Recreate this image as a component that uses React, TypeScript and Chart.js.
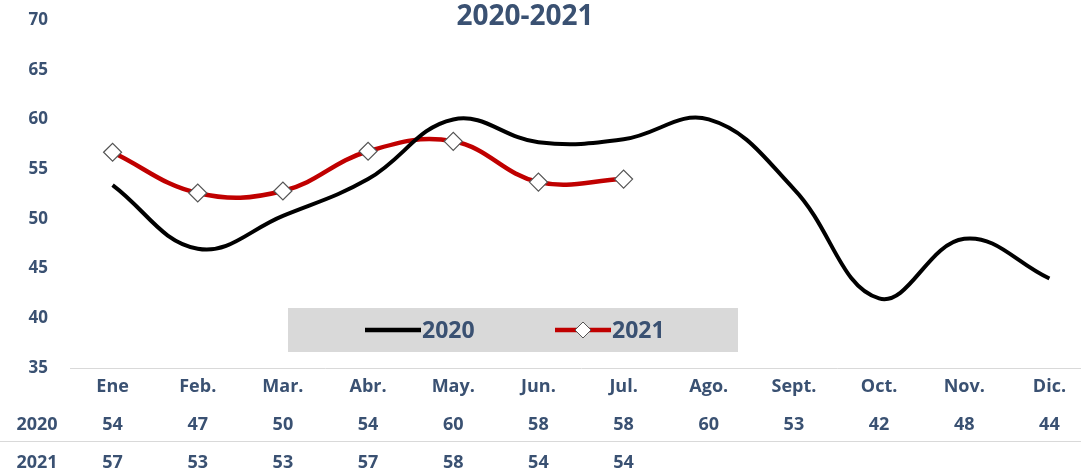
import React, { useEffect, useRef } from 'react';
import { Chart, registerables } from 'chart.js';

Chart.register(...registerables);

const titleText = '2020-2021';
const months = ['Ene', 'Feb.', 'Mar.', 'Abr.', 'May.', 'Jun.', 'Jul.', 'Ago.', 'Sept.', 'Oct.', 'Nov.', 'Dic.'];
const series2020 = [53.4, 47, 50.3, 54, 60, 57.7, 58, 60, 53, 42, 48, 44];
const series2021 = [56.7, 52.6, 52.8, 56.8, 57.8, 53.7, 54];
const table2020 = ['54', '47', '50', '54', '60', '58', '58', '60', '53', '42', '48', '44'];
const table2021 = ['57', '53', '53', '57', '58', '54', '54'];
const seriesNames = ['2020', '2021'];
const yMin = 35;
const yMax = 70;
const yStep = 5;

const TEXT = '#3a5172';
const FONT = '"Open Sans", "Noto Sans", sans-serif';

const overlayPlugin = {
  id: 'overlay',
  beforeDatasetsDraw(chart: any) {
    const { ctx, chartArea } = chart;
    const ds = chart.data.datasets;
    const bx = chartArea.left + 218;
    const by = chartArea.bottom - 60;
    const bw = 450;
    const bh = 44;
    ctx.save();
    ctx.fillStyle = '#d9d9d9';
    ctx.fillRect(bx, by, bw, bh);
    const cy = by + bh / 2;
    const items = [
      { x: bx + 77, d: ds[0] },
      { x: bx + 267, d: ds[1] },
    ];
    items.forEach((it) => {
      ctx.strokeStyle = it.d.borderColor;
      ctx.lineWidth = 4.5;
      ctx.beginPath();
      ctx.moveTo(it.x, cy);
      ctx.lineTo(it.x + 56, cy);
      ctx.stroke();
      if (it.d.pointRadius > 0) {
        const r = 8;
        const mx = it.x + 28;
        ctx.beginPath();
        ctx.moveTo(mx, cy - r);
        ctx.lineTo(mx + r, cy);
        ctx.lineTo(mx, cy + r);
        ctx.lineTo(mx - r, cy);
        ctx.closePath();
        ctx.fillStyle = it.d.pointBackgroundColor;
        ctx.fill();
        ctx.strokeStyle = it.d.pointBorderColor;
        ctx.lineWidth = 1;
        ctx.stroke();
      }
      ctx.fillStyle = TEXT;
      ctx.font = `bold 23px ${FONT}`;
      ctx.textAlign = 'left';
      ctx.textBaseline = 'middle';
      ctx.fillText(it.d.label, it.x + 57, cy + 1);
    });
    ctx.restore();
  },
  afterDraw(chart: any) {
    const { ctx, chartArea, width } = chart;
    const xs = chart.scales.x;
    ctx.save();
    ctx.fillStyle = TEXT;
    ctx.font = `bold 28px ${FONT}`;
    ctx.textAlign = 'center';
    ctx.textBaseline = 'middle';
    ctx.fillText(titleText, chartArea.left + 455, 17);

    ctx.font = `bold 18px ${FONT}`;
    const rowMonth = chartArea.bottom + 19;
    const row20 = chartArea.bottom + 57;
    const row21 = chartArea.bottom + 95;
    months.forEach((m, i) => {
      const px = xs.getPixelForValue(i);
      ctx.fillText(m, px, rowMonth);
      if (table2020[i] !== undefined) ctx.fillText(table2020[i], px, row20);
      if (table2021[i] !== undefined) ctx.fillText(table2021[i], px, row21);
    });
    ctx.fillText(seriesNames[0], 37, row20);
    ctx.fillText(seriesNames[1], 37, row21);
    ctx.strokeStyle = '#d9d9d9';
    ctx.lineWidth = 1;
    ctx.beginPath();
    ctx.moveTo(0, chartArea.bottom + 73.5);
    ctx.lineTo(width, chartArea.bottom + 73.5);
    ctx.stroke();
    ctx.restore();
  },
};

export default function App() {
  const ref = useRef<HTMLCanvasElement | null>(null);
  useEffect(() => {
    if (!ref.current) return;
    const chart = new Chart(ref.current, {
      type: 'line',
      data: {
        labels: months,
        datasets: [
          {
            label: seriesNames[0],
            data: series2020,
            borderColor: '#000000',
            borderWidth: 4,
            pointRadius: 0,
            tension: 0.4,
            fill: false,
          },
          {
            label: seriesNames[1],
            data: series2021,
            borderColor: '#c00000',
            borderWidth: 4.5,
            pointStyle: 'rectRot',
            pointRadius: 9,
            pointBackgroundColor: '#ffffff',
            pointBorderColor: '#555555',
            pointBorderWidth: 1.2,
            tension: 0.4,
            fill: false,
          },
        ],
      } as any,
      options: {
        responsive: false,
        animation: false,
        layout: { autoPadding: false, padding: { top: 20, right: 0, left: 0, bottom: 0 } },
        plugins: { legend: { display: false }, tooltip: { enabled: false }, title: { display: false } },
        scales: {
          x: {
            type: 'category',
            offset: true,
            grid: { display: false },
            border: { display: true, color: '#d9d9d9', width: 1 },
            ticks: { display: false },
            afterFit(scale: any) {
              scale.height = 105;
              scale.paddingTop = 0;
              scale.paddingBottom = 0;
            },
          },
          y: {
            min: yMin,
            max: yMax,
            grid: { display: false, drawTicks: false },
            border: { display: false },
            ticks: {
              stepSize: yStep,
              padding: 22,
              color: TEXT,
              font: { family: FONT, weight: 'bold', size: 17 },
            },
            afterFit(scale: any) {
              scale.width = 70;
              scale.paddingTop = 0;
              scale.paddingBottom = 0;
            },
          },
        },
      } as any,
      plugins: [overlayPlugin],
    });
    return () => chart.destroy();
  }, []);
  return (
    <div style={{ position: 'fixed', left: 0, top: 0, width: '100vw', height: '100vh', overflow: 'hidden', background: '#fff' }}>
      <canvas ref={ref} width={1092} height={473} style={{ display: 'block' }} />
    </div>
  );
}
